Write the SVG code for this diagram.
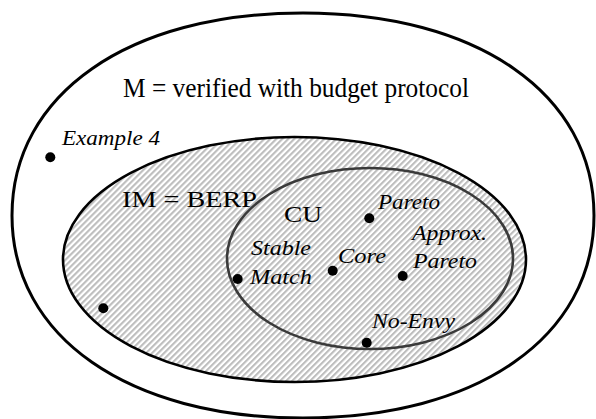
<svg xmlns="http://www.w3.org/2000/svg" width="596" height="419" viewBox="0 0 596 419">
<style>
.set{fill:none;stroke:#000;stroke-width:3}
.im{fill:url(#hatch);stroke:#000;stroke-width:2.6}
.cu{fill:none;stroke:#3a3a3a;stroke-width:2.6}
.dot{fill:#000}
.t{font-family:"Liberation Serif","Times New Roman",serif;fill:#000}
.i{font-family:"Liberation Serif","Times New Roman",serif;font-style:italic;font-size:22px;fill:#000}
</style>
<defs>
<pattern id="hatch" width="4.24" height="4.24" patternUnits="userSpaceOnUse" patternTransform="rotate(45)">
<rect width="4.24" height="4.24" fill="#fff"/>
<line x1="1.06" y1="-1" x2="1.06" y2="5.24" stroke="#bababa" stroke-width="2"/>
</pattern>
</defs>
<g id="M">
<path class="set" d="M 12 215.5 C 12 94, 128.4 13, 303 13 C 477.6 13, 594 94, 594 215.5 C 594 337, 477.6 418, 303 418 C 128.4 418, 12 337, 12 215.5 Z"/>
<text class="t" x="123" y="97" font-size="27" textLength="346" lengthAdjust="spacingAndGlyphs">M = verified with budget protocol</text>
</g>
<g id="IM">
<ellipse class="im" cx="294.5" cy="259.5" rx="231.5" ry="122.5"/>
<text class="t" x="122" y="207" font-size="24" textLength="135" lengthAdjust="spacingAndGlyphs">IM = BERP</text>
</g>
<g id="CU">
<ellipse class="cu" cx="370" cy="258.5" rx="143" ry="90.5"/>
<text class="t" x="284" y="222" font-size="23" textLength="38" lengthAdjust="spacingAndGlyphs">CU</text>
</g>
<g id="connectors"></g>
<g id="example4">
<circle class="dot" cx="50.3" cy="157.3" r="5"/>
<text class="i" x="62" y="145" textLength="98" lengthAdjust="spacingAndGlyphs">Example 4</text>
</g>
<g id="unlabeled">
<circle class="dot" cx="103.3" cy="308.3" r="5"/>
</g>
<g id="pareto">
<circle class="dot" cx="369.3" cy="218.3" r="5"/>
<text class="i" x="378" y="209" textLength="62" lengthAdjust="spacingAndGlyphs">Pareto</text>
</g>
<g id="stable-match">
<circle class="dot" cx="237.7" cy="279" r="5"/>
<text class="i" x="251" y="255" textLength="60" lengthAdjust="spacingAndGlyphs">Stable</text>
<text class="i" x="250" y="284" textLength="62" lengthAdjust="spacingAndGlyphs">Match</text>
</g>
<g id="core">
<circle class="dot" cx="332.7" cy="270.7" r="5"/>
<text class="i" x="338" y="263" textLength="48" lengthAdjust="spacingAndGlyphs">Core</text>
</g>
<g id="approx-pareto">
<circle class="dot" cx="402.7" cy="276" r="5"/>
<text class="i" x="412" y="240" textLength="75" lengthAdjust="spacingAndGlyphs">Approx.</text>
<text class="i" x="413" y="268" textLength="64" lengthAdjust="spacingAndGlyphs">Pareto</text>
</g>
<g id="no-envy">
<circle class="dot" cx="366.7" cy="342.7" r="5"/>
<text class="i" x="372" y="328" textLength="83" lengthAdjust="spacingAndGlyphs">No-Envy</text>
</g>
</svg>
